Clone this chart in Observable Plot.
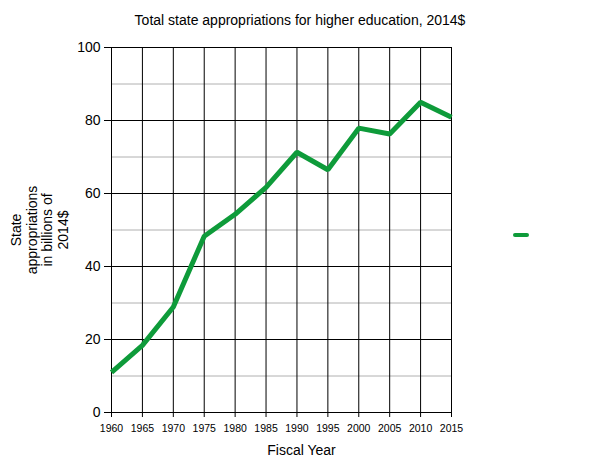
<!DOCTYPE html>
<html>
<head>
<meta charset="utf-8">
<script src="https://cdn.jsdelivr.net/npm/d3@7"></script>
<script src="https://cdn.jsdelivr.net/npm/@observablehq/plot@0.6"></script>
<style>
  html, body { margin: 0; padding: 0; background: #fff; }
  #wrap { position: relative; width: 600px; height: 463px; font-family: "Liberation Sans", Arial, sans-serif; }
  #title { position: absolute; left: 0; width: 600px; top: 12px; text-align: center; font-size: 14px; color: #000; }
  #legend { position: absolute; left: 513px; top: 233px; width: 16px; height: 4px; border-radius: 2px; background: #0e9b3a; }
  #chart { position: absolute; left: 0; top: 0; }
</style>
</head>
<body>
<div id="wrap">
  <div id="chart"></div>
  <div id="title">Total state appropriations for higher education, 2014$</div>
  <div id="legend"></div>
</div>
<script>
const years = [1960, 1965, 1970, 1975, 1980, 1985, 1990, 1995, 2000, 2005, 2010, 2015];
const appropriations = [11.0, 18.4, 28.9, 48.3, 54.3, 61.7, 71.3, 66.5, 77.9, 76.3, 85.0, 80.9];
const yMajorTicks = [0, 20, 40, 60, 80, 100];
const yMinorTicks = [10, 30, 50, 70, 90];
const xTicks = [1960, 1965, 1970, 1975, 1980, 1985, 1990, 1995, 2000, 2005, 2010, 2015];
const yLabel = "State\nappropriations\nin billions of\n2014$";
const xLabel = "Fiscal Year";

const data = years.map((y, i) => ({year: y, value: appropriations[i]}));
const green = "#0e9b3a";

const chart = Plot.plot({
  width: 600,
  height: 463,
  marginTop: 47,
  marginLeft: 111,
  marginRight: 149,
  marginBottom: 51,
  style: {fontFamily: "'Liberation Sans', Arial, sans-serif", color: "#000", background: "transparent"},
  x: {domain: [1960, 2015], ticks: xTicks, tickFormat: d => String(d)},
  y: {domain: [0, 100], ticks: yMajorTicks},
  marks: [
    Plot.ruleY(yMinorTicks, {stroke: "#b0b0b0", strokeWidth: 1}),
    Plot.ruleY(yMajorTicks, {stroke: "#000", strokeWidth: 1}),
    Plot.ruleX(xTicks, {stroke: "#000", strokeWidth: 1}),
    Plot.axisY(yMajorTicks, {label: null, tickSize: 7, tickFormat: () => ""}),
    Plot.axisX(xTicks, {label: null, tickSize: 5, tickFormat: () => ""}),
    Plot.text(yMajorTicks, {y: d => d, frameAnchor: "left", dx: -11, textAnchor: "end", lineAnchor: "middle", fontSize: 14, fill: "#000"}),
    Plot.text(xTicks, {x: d => d, text: d => String(d), frameAnchor: "bottom", dy: 16, textAnchor: "middle", lineAnchor: "middle", fontSize: 10.5, fill: "#000"}),
    Plot.line(data, {x: "year", y: "value", stroke: green, strokeWidth: 5, strokeLinejoin: "miter", strokeLinecap: "butt"}),
    Plot.text([yLabel], {frameAnchor: "left", dx: -72, rotate: -90, fontSize: 14, lineHeight: 1.1, textAnchor: "middle", lineAnchor: "middle", fill: "#000"}),
    Plot.text([xLabel], {frameAnchor: "bottom", dx: 20, dy: 42, fontSize: 14, textAnchor: "middle", fill: "#000"})
  ]
});
document.getElementById("chart").appendChild(chart);
</script>
</body>
</html>
